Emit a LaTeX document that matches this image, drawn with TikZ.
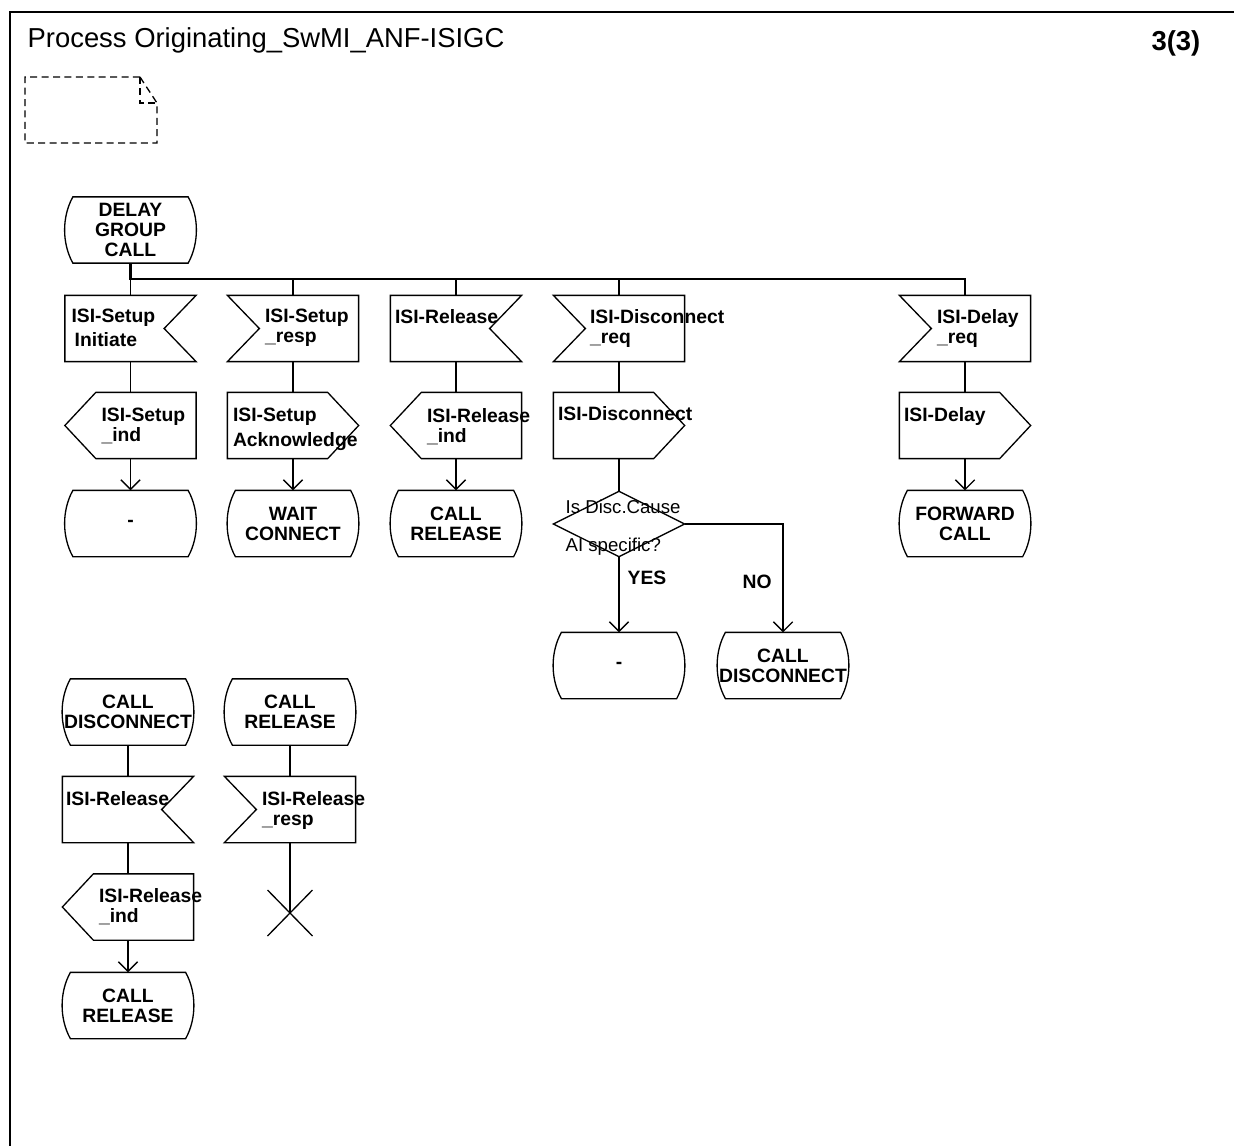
\documentclass[tikz,border=0pt]{standalone}
\usepackage{fontspec}
\setmainfont{Liberation Sans}
\usetikzlibrary{arrows.meta}

\newcommand{\etqfont}{\fontsize{11pt}{11.4pt}\selectfont\bfseries}
\newcommand{\pregfont}{\fontsize{10.6pt}{12pt}\selectfont}
\newcommand{\titfont}{\fontsize{15.6pt}{18pt}\selectfont}

\tikzset{
  simbolo/.style={rectangle, inner sep=0pt, minimum width=2.6cm,
    minimum height=1.3cm, align=center, font=\etqfont},
  texto/.style={anchor=north west, inner sep=0pt, align=left, font=\etqfont},
  pregunta/.style={anchor=base west, inner sep=0pt, font=\pregfont},
  flujo/.style={-{Straight Barb[length=5.5pt,width=11pt]}},
  bus/.style={line width=1.2pt},
}

\begin{document}
\begin{tikzpicture}[x=0.02cm, y=-0.02cm, line width=0.75pt]
    \useasboundingbox (0,0) rectangle (1234,1146);

    % Marco y cabecera.
    \draw[line width=1.2pt] (10,1146) -- (10,12) -- (1234,12);
    \node[font=\titfont, anchor=base west, inner sep=0pt] (titulo) at (27,47)
        {Process Originating\_SwMI\_ANF-ISIGC};
    \node[font=\titfont\bfseries, anchor=base east, inner sep=0pt] (pagina) at (1201,51) {3(3)};

    % Nota con la esquina doblada.
    \draw[dash pattern=on 4pt off 2.5pt] (140,77) -- (25,77) -- (25,143)
        -- (157,143) -- (157,103) -- cycle;
    \draw[dash pattern=on 4pt off 2.5pt] (140,77) -- (140,103) -- (157,103);

    % Estados.
    \node[simbolo] (delay) at (130.5,230) {DELAY\\GROUP\\CALL};
    \node[simbolo] (stGuion1) at (130.5,523.5) {-};
    \node[simbolo] (stWait) at (293,523.5) {WAIT\\CONNECT};
    \node[simbolo] (stRelease) at (456,523.5) {CALL\\RELEASE};
    \node[simbolo] (stForward) at (965,523.5) {FORWARD\\CALL};
    \node[simbolo] (stGuion2) at (619,665.5) {-};
    \node[simbolo] (stDisc) at (783,665.5) {CALL\\DISCONNECT};
    \node[simbolo] (stDisc2) at (128,712) {CALL\\DISCONNECT};
    \node[simbolo] (stRelease2) at (290,712) {CALL\\RELEASE};
    \node[simbolo] (stRelease3) at (128,1005.5) {CALL\\RELEASE};

    % Entradas.
    \node[simbolo] (inSetup) at (130.5,328.5) {};
    \node[simbolo] (inSetupResp) at (293,328.5) {};
    \node[simbolo] (inRelease) at (456,328.5) {};
    \node[simbolo] (inDiscReq) at (619,328.5) {};
    \node[simbolo] (inDelayReq) at (965,328.5) {};
    \node[simbolo] (inRelease2) at (128,809.5) {};
    \node[simbolo] (inRelResp) at (290,809.5) {};

    % Salidas.
    \node[simbolo] (outSetupInd) at (130.5,425.5) {};
    \node[simbolo] (outSetupAck) at (293,425.5) {};
    \node[simbolo] (outReleaseInd) at (456,425.5) {};
    \node[simbolo] (outDisc) at (619,425.5) {};
    \node[simbolo] (outDelay) at (965,425.5) {};
    \node[simbolo] (outRelInd) at (128,907) {};

    % Decision y parada.
    \node[simbolo, minimum height=1.28cm] (dec) at (619,524) {};
    \coordinate (parada) at (290,913);

    % Contornos de los simbolos.
    \foreach \n in {delay,stGuion1,stWait,stRelease,stForward,stGuion2,stDisc,
                    stDisc2,stRelease2,stRelease3} {
        \draw ([shift={(8,0)}]\n.north west) -- ([shift={(-8,0)}]\n.north east)
            .. controls ([shift={(3,20)}]\n.north east) and ([shift={(3,-20)}]\n.south east)
            .. ([shift={(-8,0)}]\n.south east) -- ([shift={(8,0)}]\n.south west)
            .. controls ([shift={(-3,-20)}]\n.south west) and ([shift={(-3,20)}]\n.north west)
            .. cycle;
    }
    \foreach \n in {inSetup,inRelease,inRelease2} {
        \draw (\n.north west) -- (\n.north east) -- ([shift={(-32,0)}]\n.east)
            -- (\n.south east) -- (\n.south west) -- cycle;
    }
    \foreach \n in {inSetupResp,inDiscReq,inDelayReq,inRelResp} {
        \draw (\n.north west) -- ([shift={(32,0)}]\n.west) -- (\n.south west)
            -- (\n.south east) -- (\n.north east) -- cycle;
    }
    \foreach \n in {outSetupInd,outReleaseInd,outRelInd} {
        \draw (\n.west) -- ([shift={(31,0)}]\n.north west) -- (\n.north east)
            -- (\n.south east) -- ([shift={(31,0)}]\n.south west) -- cycle;
    }
    \foreach \n in {outSetupAck,outDisc,outDelay} {
        \draw (\n.north west) -- ([shift={(-31,0)}]\n.north east) -- (\n.east)
            -- ([shift={(-31,0)}]\n.south east) -- (\n.south west) -- cycle;
    }
    \draw (dec.west) -- (dec.north) -- (dec.east) -- (dec.south) -- cycle;
    \draw ([shift={(-22.5,-23)}]parada) -- ([shift={(22.5,23)}]parada);
    \draw ([shift={(-22.5,23)}]parada) -- ([shift={(22.5,-23)}]parada);

    % Textos de entradas y salidas.
    \node[texto] (inSetup-t) at ([shift={(6,13)}]inSetup.north west) {ISI-Setup\\[2.3pt]\,Initiate};
    \node[texto] (inSetupResp-t) at ([shift={(37,13)}]inSetupResp.north west) {ISI-Setup\\\_resp};
    \node[texto] (inRelease-t) at ([shift={(4,13)}]inRelease.north west) {ISI-Release};
    \node[texto] (inDiscReq-t) at ([shift={(36,13)}]inDiscReq.north west) {ISI-Disconnect\\\_req};
    \node[texto] (inDelayReq-t) at ([shift={(37,13)}]inDelayReq.north west) {ISI-Delay\\\_req};
    \node[texto] (inRelease2-t) at ([shift={(3,14)}]inRelease2.north west) {ISI-Release};
    \node[texto] (inRelResp-t) at ([shift={(37,14)}]inRelResp.north west) {ISI-Release\\\_resp};
    \node[texto] (outSetupInd-t) at ([shift={(36,15)}]outSetupInd.north west) {ISI-Setup\\\_ind};
    \node[texto] (outSetupAck-t) at ([shift={(5,15)}]outSetupAck.north west) {ISI-Setup\\[2.8pt]Acknowledge};
    \node[texto] (outReleaseInd-t) at ([shift={(36,15)}]outReleaseInd.north west) {ISI-Release\\\_ind};
    \node[texto] (outDisc-t) at ([shift={(4,13)}]outDisc.north west) {ISI-Disconnect};
    \node[texto] (outDelay-t) at ([shift={(4,14)}]outDelay.north west) {ISI-Delay};
    \node[texto] (outRelInd-t) at ([shift={(36,14)}]outRelInd.north west) {ISI-Release\\\_ind};

    % Textos de la decision.
    \node[pregunta] (dec-t1) at (565,513) {Is Disc.Cause};
    \node[pregunta] (dec-t2) at (565,551) {AI specific?};
    \node[texto, anchor=base west] (si) at (627,584) {YES};
    \node[texto, anchor=base west] (no) at (742,588) {NO};

    % Bus desde el estado inicial.
    \coordinate (bus) at (130.5,279);
    \draw[bus] (delay.south) -- (bus) -| (inDelayReq.north);
    \foreach \n in {inSetup,inSetupResp,inRelease,inDiscReq} {
        \draw (\n.north) -- (\n.north |- bus);
    }

    % Conexiones.
    \foreach \a/\b in {inSetup/outSetupInd,inSetupResp/outSetupAck,inRelease/outReleaseInd,
                       inDiscReq/outDisc,inDelayReq/outDelay,outDisc/dec,
                       stDisc2/inRelease2,inRelease2/outRelInd,stRelease2/inRelResp} {
        \draw (\a.south) -- (\b.north);
    }
    \foreach \a/\b in {outSetupInd/stGuion1,outSetupAck/stWait,outReleaseInd/stRelease,
                       outDelay/stForward,dec/stGuion2,outRelInd/stRelease3} {
        \draw[flujo] (\a.south) -- (\b.north);
    }
    \draw[flujo] (dec.east) -| (stDisc.north);
    \draw (inRelResp.south) -- (parada);
\end{tikzpicture}
\end{document}
